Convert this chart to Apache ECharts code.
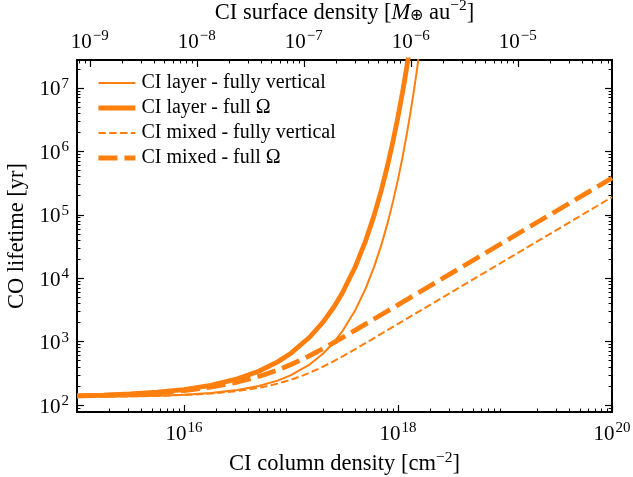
<!DOCTYPE html>
<html><head><meta charset="utf-8">
<script src="https://cdn.jsdelivr.net/npm/echarts@6/dist/echarts.min.js"></script>
<style>html,body{margin:0;padding:0;background:#fff}#c{width:633px;height:477px}</style>
</head><body><div id="c"></div>
<script>
// ---- data ----
// CI column density samples [cm^-2] for the "layer" curves
const layerColumn = [1e15, 1.778e15, 3.162e15, 5.623e15, 1e16, 1.778e16, 3.162e16, 5e16, 7.5e16, 1e17,
  1.5e17, 2e17, 2.5e17, 3e17, 4e17, 5e17, 6e17, 7e17, 8e17, 9e17, 1e18, 1.1e18, 1.2e18, 1.3e18, 1.4e18, 1.5e18, 1.6e18];
// CO lifetime [yr]
const layerVertical = [135.1, 135.9, 137.4, 140.1, 145.0, 154.2, 172.0, 198.9, 242.4, 295.3,
  438.3, 650.6, 965.6, 1434, 3158, 6960, 15330, 33780, 74450, 164000, 361400, 796400, 1.755e6, 3.867e6, 8.52e6, 1.877e7, 4.138e7];
const layerFullOmega = [139.8, 143.5, 149.4, 159.1, 175.6, 204.6, 258.6, 341.1, 479.2, 656.9,
  1181, 2043, 3447, 5744, 15307, 39494, 99570, 246800, 604300, 1.464e6, 3.515e6, 8.383e6, 1.988e7, 4.69e7];
// CI column density samples [cm^-2] for the "mixed" curves
const mixedColumn = [1e15, 1.778e15, 3.162e15, 5.623e15, 1e16, 1.778e16, 3.162e16, 4.217e16, 5.623e16, 7.499e16,
  1e17, 1.3335e17, 1.778e17, 2.371e17, 3.162e17, 4.217e17, 5.623e17, 7.499e17, 1e18, 1.778e18, 3.162e18,
  5.623e18, 1e19, 1.778e19, 3.162e19, 5.623e19, 1e20];
const mixedVertical = [134.95, 135.7, 137.0, 139.4, 143.7, 151.6, 166.3, 178.0, 194.4, 217.6,
  250.7, 298.4, 367.4, 466.7, 607.7, 803.3, 1068.8, 1425, 1900, 3378, 6008,
  10684, 19001, 33780, 60086, 106840, 190012];
const mixedFullOmega = [139.1, 142.3, 147.4, 155.6, 169.0, 191.5, 230.4, 260.3, 300.8, 356.9,
  434.8, 544.4, 697.8, 911.6, 1205.5, 1603.5, 2136.9, 2849.9, 3800.2, 6756, 12017,
  21368, 38002, 67563, 120171, 213676, 380024];
const seriesNames = ['CI layer - fully vertical', 'CI layer - full \u03A9', 'CI mixed - fully vertical', 'CI mixed - full \u03A9'];
// tick label exponents
const bottomTickExp = [16, 18, 20];
const topTickExp = [-9, -8, -7, -6, -5];
const leftTickExp = [2, 3, 4, 5, 6, 7];
// axis extents (log10)
const xRange = [15, 20];
const topRange = [-9.12, -4.12];
const yRange = [1.89, 7.44];

// ---- helpers ----
const F = 'Liberation Serif';
const ORANGE = '#ff7f0e';
const lg = v => Math.log10(v);
function pairs(xs, ys) { return ys.map((y, i) => [lg(xs[i]), lg(y)]); }
function minorTicks(range) {
  const out = [];
  for (let d = Math.floor(range[0]) - 1; d <= Math.ceil(range[1]); d++) {
    for (let k = 2; k <= 9; k++) {
      const v = d + Math.log10(k);
      if (v >= range[0] && v <= range[1]) out.push(v);
    }
  }
  return out;
}
const sup = v => (v < 0 ? '\u2212' + Math.abs(v) : '' + v);
const labelRich = {
  b: { fontFamily: F, fontSize: 21, color: '#000', verticalAlign: 'bottom', lineHeight: 25 },
  e: { fontFamily: F, fontSize: 15, color: '#000', verticalAlign: 'bottom', lineHeight: 25, padding: [0, 0, 9, 1] }
};
const nameRich = {
  t: { fontFamily: F, fontSize: 22.5, color: '#000', verticalAlign: 'bottom', lineHeight: 27 },
  i: { fontFamily: F, fontSize: 22.5, fontStyle: 'italic', color: '#000', verticalAlign: 'bottom', lineHeight: 27 },
  s: { fontFamily: F, fontSize: 15.5, color: '#000', verticalAlign: 'bottom', lineHeight: 27, padding: [0, 0, 10, 0] },
  sub: { fontFamily: F, fontSize: 15.5, color: '#000', verticalAlign: 'bottom', lineHeight: 27 }
};
const LINE = { show: true, onZero: false, lineStyle: { color: '#000', width: 2 } };
function majorAxis(extra) {
  return Object.assign({
    type: 'value', splitLine: { show: false }, axisLine: LINE,
    axisTick: { show: true, inside: true, length: 7, lineStyle: { color: '#000', width: 1.2 } }
  }, extra);
}
function minorAxis(pos, range, ticks) {
  return {
    type: 'value', position: pos, min: range[0], max: range[1], splitLine: { show: false },
    axisLine: { show: false, onZero: false }, axisLabel: { show: false },
    axisTick: { show: true, inside: true, length: 3.5, customValues: ticks, lineStyle: { color: '#000', width: 1 } }
  };
}

const chart = echarts.init(document.getElementById('c'), null, { renderer: 'canvas' });
chart.setOption({
  animation: false,
  backgroundColor: '#fff',
  grid: { left: 77, right: 21, top: 60, bottom: 65, containLabel: false, outerBoundsMode: 'none' },
  legend: {
    orient: 'vertical', left: 91, top: 68, itemWidth: 37, itemHeight: 16, itemGap: 5,
    textStyle: { fontFamily: F, fontSize: 20, lineHeight: 16, color: '#000', padding: [0, 0, 0, 1] },
    itemStyle: { opacity: 0 },
    lineStyle: { width: 'inherit', type: 'inherit' },
    data: seriesNames
  },
  xAxis: [
    majorAxis({
      position: 'bottom', min: xRange[0], max: xRange[1],
      axisTick: { show: true, inside: true, length: 7, customValues: bottomTickExp, lineStyle: { color: '#000', width: 1.2 } },
      axisLabel: { customValues: bottomTickExp, margin: 8, formatter: v => '{b|10}{e|' + sup(v) + '}', rich: labelRich },
      name: '{t|CI column density [cm}{s|\u22122}{t|]}', nameLocation: 'middle', nameGap: 37,
      nameTextStyle: { rich: nameRich }
    }),
    minorAxis('bottom', xRange, minorTicks(xRange)),
    majorAxis({
      position: 'top', min: topRange[0], max: topRange[1],
      axisTick: { show: true, inside: true, length: 7, customValues: topTickExp, lineStyle: { color: '#000', width: 1.2 } },
      axisLabel: { customValues: topTickExp, margin: 7, formatter: v => '{b|10}{e|' + sup(v) + '}', rich: labelRich },
      name: '{t|CI surface density [}{i|M}{sub|\u2295}{t| au}{s|\u22122}{t|]}', nameLocation: 'middle', nameGap: 28,
      nameTextStyle: { rich: nameRich }
    }),
    minorAxis('top', topRange, minorTicks(topRange))
  ],
  yAxis: [
    majorAxis({
      position: 'left', min: yRange[0], max: yRange[1],
      axisTick: { show: true, inside: true, length: 7, customValues: leftTickExp, lineStyle: { color: '#000', width: 1.2 } },
      axisLabel: { customValues: leftTickExp, margin: 8, formatter: v => '{b|10}{e|' + sup(v) + '}', rich: labelRich },
      name: '{t|CO lifetime [yr]}', nameLocation: 'middle', nameGap: 46,
      nameTextStyle: { rich: nameRich }
    }),
    minorAxis('left', yRange, minorTicks(yRange)),
    majorAxis({
      position: 'right', min: yRange[0], max: yRange[1],
      axisTick: { show: true, inside: true, length: 7, customValues: leftTickExp, lineStyle: { color: '#000', width: 1.2 } },
      axisLabel: { show: false }
    }),
    minorAxis('right', yRange, minorTicks(yRange))
  ],
  series: [
    { name: seriesNames[0], type: 'line', data: pairs(layerColumn, layerVertical), symbol: 'none', showSymbol: false,
      smooth: false, lineStyle: { color: ORANGE, width: 2 }, itemStyle: { color: ORANGE }, z: 3 },
    { name: seriesNames[1], type: 'line', data: pairs(layerColumn, layerFullOmega), symbol: 'none', showSymbol: false,
      smooth: false, lineStyle: { color: ORANGE, width: 4.8 }, itemStyle: { color: ORANGE }, z: 4 },
    { name: seriesNames[2], type: 'line', data: pairs(mixedColumn, mixedVertical), symbol: 'none', showSymbol: false,
      smooth: false, lineStyle: { color: ORANGE, width: 2, type: [7.5, 3.3] }, itemStyle: { color: ORANGE }, z: 5 },
    { name: seriesNames[3], type: 'line', data: pairs(mixedColumn, mixedFullOmega), symbol: 'none', showSymbol: false,
      smooth: false, lineStyle: { color: ORANGE, width: 4.8, type: [19, 7] }, itemStyle: { color: ORANGE }, z: 6 }
  ]
});
</script></body></html>
